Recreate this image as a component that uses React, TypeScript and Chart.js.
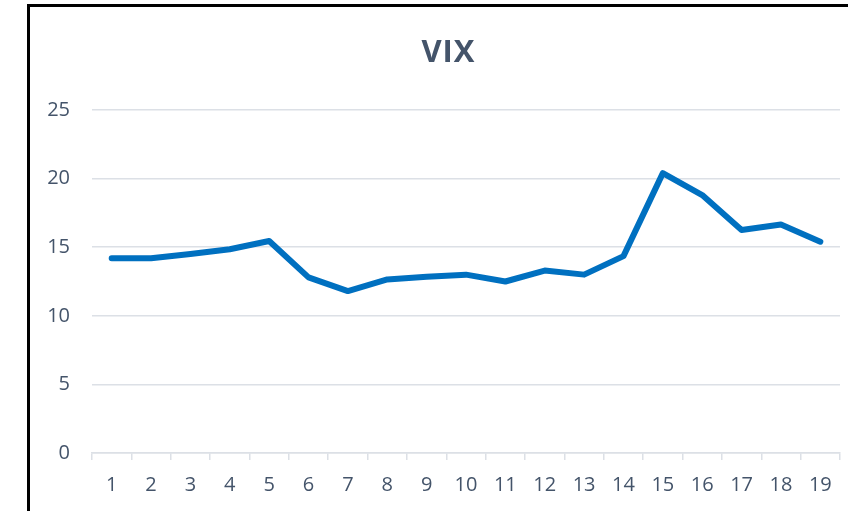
import React, { useEffect, useRef } from "react";
import { Chart, registerables } from "chart.js";

Chart.register(...registerables);

const labels = ["1","2","3","4","5","6","7","8","9","10","11","12","13","14","15","16","17","18","19"];
const vix = [14.2, 14.2, 14.5, 14.85, 15.45, 12.8, 11.8, 12.65, 12.85, 13.0, 12.5, 13.3, 13.0, 14.35, 20.4, 18.8, 16.25, 16.65, 15.4];
const titleText = "VIX";

const framePlugin = {
  id: "frame",
  afterDraw(chart: any) {
    const ctx = chart.ctx;
    ctx.save();
    ctx.strokeStyle = "#000000";
    ctx.lineWidth = 3;
    ctx.beginPath();
    ctx.moveTo(28.5, 511);
    ctx.lineTo(28.5, 5.5);
    ctx.lineTo(848, 5.5);
    ctx.stroke();
    // title
    ctx.fillStyle = "#44546A";
    ctx.font = "bold 31px 'Open Sans'";
    (ctx as any).letterSpacing = "1px";
    ctx.textAlign = "center";
    ctx.textBaseline = "middle";
    ctx.fillText(titleText, 448.5, 53);
    ctx.restore();
  },
};

export default function App() {
  const ref = useRef<HTMLCanvasElement>(null);
  useEffect(() => {
    if (!ref.current) return;
    const chart = new Chart(ref.current, {
      type: "line",
      data: {
        labels,
        datasets: [
          {
            label: "VIX",
            data: vix,
            borderColor: "#0070C0",
            backgroundColor: "#0070C0",
            borderWidth: 6,
            pointRadius: 0,
            tension: 0,
            borderCapStyle: "round",
            borderJoinStyle: "round",
          },
        ],
      },
      options: {
        responsive: false,
        animation: false,
        layout: { padding: { top: 110, right: 8, bottom: 0, left: 0 } },
        plugins: {
          legend: { display: false },
          tooltip: { enabled: false },
          title: { display: false },
        },
        scales: {
          x: {
            offset: true,
            grid: {
              offset: true,
              drawOnChartArea: false,
              drawTicks: true,
              tickLength: 7,
              color: "#DCE0E6",
              lineWidth: 1.5,
            },
            border: { display: true, color: "#DCE0E6", width: 1.5 },
            ticks: {
              color: "#44546A",
              font: { family: "'Open Sans'", size: 20 },
              padding: 13,
              maxRotation: 0,
              autoSkip: false,
            },
            afterFit(scale: any) {
              scale.height = 58;
            },
          },
          y: {
            min: 0,
            max: 25,
            ticks: {
              stepSize: 5,
              color: "#44546A",
              font: { family: "'Open Sans'", size: 20 },
              padding: 22,
            },
            grid: { color: "#DCE0E6", lineWidth: 1.5, drawTicks: false },
            border: { display: false },
            afterFit(scale: any) {
              scale.width = 92;
            },
          },
        },
      },
      plugins: [framePlugin],
    });
    return () => chart.destroy();
  }, []);
  return (
    <div style={{ position: "fixed", left: 0, top: 0, width: 848, height: 511, background: "#fff" }}>
      <canvas ref={ref} width={848} height={511} style={{ width: 848, height: 511 }} />
    </div>
  );
}
